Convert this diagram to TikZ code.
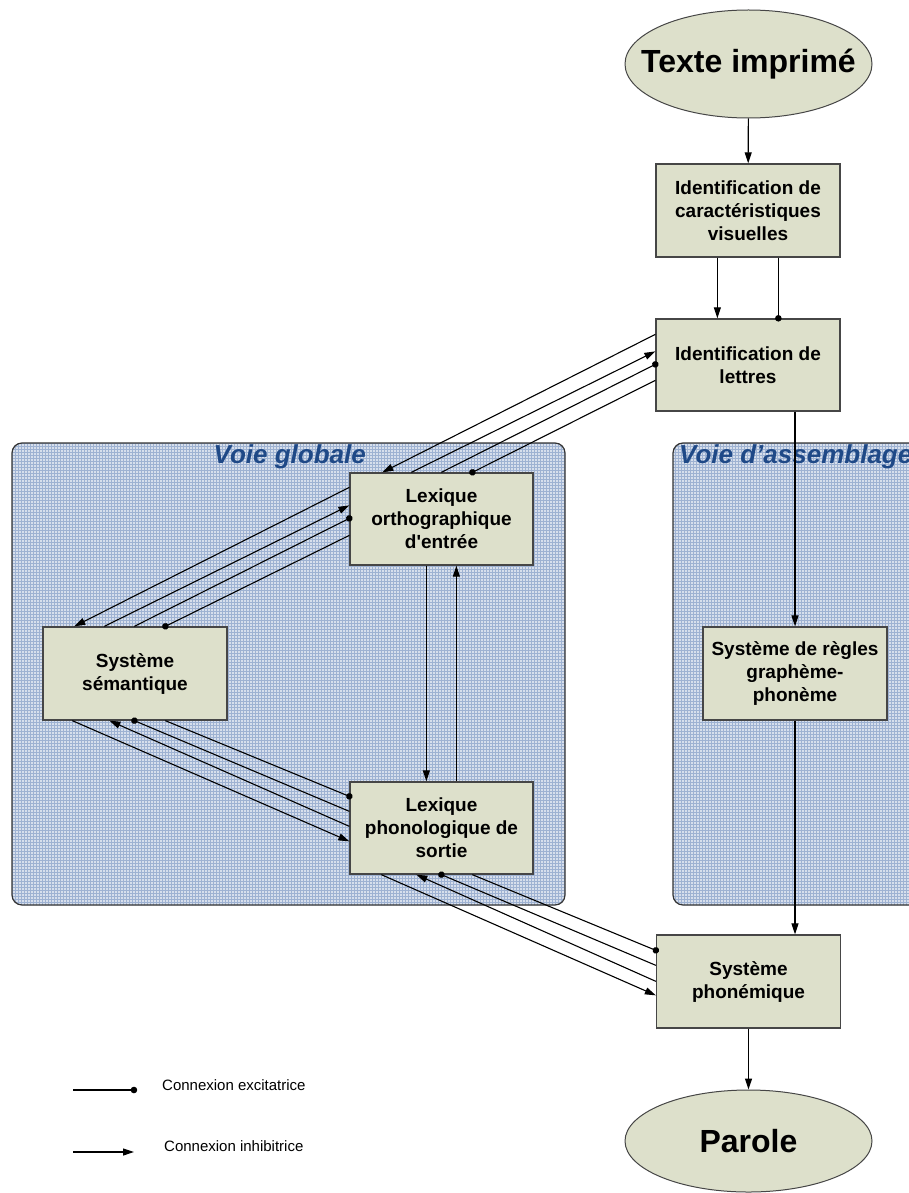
\documentclass[tikz,border=0pt]{standalone}
\usepackage{fontspec}
\setmainfont{Liberation Sans}
\newfontfamily\arialf{Liberation Sans}
\usetikzlibrary{arrows.meta,calc,shapes.geometric,patterns}
\definecolor{boxfill}{RGB}{221,224,203}
\definecolor{boxdraw}{RGB}{70,70,70}
\definecolor{panelfill}{RGB}{215,223,236}
\definecolor{panelgrid}{RGB}{158,178,210}
\definecolor{titleblue}{RGB}{31,73,135}
\tikzset{
  procbox/.style={draw=boxdraw, line width=1.3pt, fill=boxfill, minimum width=184pt, minimum height=93pt, align=center, inner sep=0pt,
    font=\arialf\fontsize{19}{23}\selectfont\bfseries},
  bigell/.style={ellipse, draw=boxdraw, line width=1pt, fill=boxfill, minimum width=247pt, inner sep=0pt,
    font=\arialf\fontsize{32}{36}\selectfont\bfseries},
  panel/.style={draw=black!80, line width=1.2pt, rounded corners=10pt},
  paneltitle/.style={font=\arialf\fontsize{26}{30}\selectfont\bfseries\itshape, text=titleblue, inner sep=0pt},
  conn/.style={line width=1.1pt, black},
  inh/.style={conn, -{Triangle[length=11pt,width=7pt]}},
  exc/.style={conn, -{Circle[length=6.5pt]}, shorten >=-3.2pt},
  legtext/.style={font=\arialf\fontsize{15}{18}\selectfont, anchor=west, inner sep=0pt}
}
\begin{document}
\begin{tikzpicture}[x=1pt,y=-1pt]
\useasboundingbox (0,0) rectangle (908,1193);
\fill[white] (0,0) rectangle (908,1193);
% panels
\fill[panelfill, rounded corners=10pt] (12,443) rectangle (565,905);
\fill[pattern=grid, pattern color=panelgrid, rounded corners=10pt] (12,443) rectangle (565,905);
\draw[panel] (12,443) rectangle (565,905);
\fill[panelfill, rounded corners=10pt] (673,443) rectangle (930,905);
\fill[pattern=grid, pattern color=panelgrid, rounded corners=10pt] (673,443) rectangle (930,905);
\draw[panel] (673,443) rectangle (930,905);
\node[paneltitle, anchor=east] (tglob) at (366,457) {Voie globale};
\node[paneltitle, anchor=west] (tass) at (679,457) {Voie d’assemblage};
% nodes
\node[bigell, minimum height=108pt] (tex) at (748.5,64) {\makebox[0pt]{Texte imprimé}};
\node[procbox] (vis) at (748,210.5) {Identification de\\caractéristiques\\visuelles};
\node[procbox, minimum height=92pt] (let) at (748,365) {Identification de\\lettres};
\node[procbox, minimum width=183pt, minimum height=92pt] (ortho) at (441.5,519) {Lexique\\orthographique\\d'entrée};
\node[procbox] (sem) at (135,673.5) {Système\\sémantique};
\node[procbox, minimum width=183pt, minimum height=92pt] (phon) at (441.5,828) {Lexique\\phonologique de\\sortie};
\node[procbox] (rules) at (795,673.5) {Système de règles\\graphème-\\phonème};
\node[procbox] (phm) at (748.5,981.5) {Système\\phonémique};
\node[bigell, minimum height=102pt] (par) at (748.5,1141) {\makebox[0pt]{Parole}};
% vertical connectors
\draw[inh] (tex) -- (vis);
\draw[inh] ($(vis.south west)+(62,0)$) -- ($(let.north west)+(62,0)$);
\draw[exc] ($(vis.south west)+(123,0)$) -- ($(let.north west)+(123,0)$);
\draw[inh] (let.south -| rules.north) -- (rules.north);
\draw[inh] (rules.south) -- (rules.south |- phm.north);
\draw[inh] (phm.south) -- (par.north);
\draw[inh] ($(ortho.south west)+(77,0)$) -- ($(phon.north west)+(77,0)$);
\draw[inh] ($(phon.north west)+(107,0)$) -- ($(ortho.south west)+(107,0)$);
% letters <-> ortho
\draw[inh] ($(let.north west)+(0,16)$) -- ($(ortho.north west)+(33,0)$);
\draw[inh] ($(ortho.north west)+(62,0)$) -- ($(let.north west)+(0,33)$);
\draw[exc] ($(ortho.north west)+(92,0)$) -- ($(let.north west)+(0,46)$);
\draw[exc] ($(let.north west)+(0,62)$) -- ($(ortho.north west)+(123,0)$);
% ortho <-> sem
\draw[inh] ($(ortho.north west)+(0,15)$) -- ($(sem.north west)+(32,0)$);
\draw[inh] ($(sem.north west)+(62,0)$) -- ($(ortho.north west)+(0,33)$);
\draw[exc] ($(sem.north west)+(92,0)$) -- ($(ortho.north west)+(0,46)$);
\draw[exc] ($(ortho.north west)+(0,63)$) -- ($(sem.north west)+(123,0)$);
% sem <-> phon
\draw[inh] ($(sem.south west)+(30,0)$) -- ($(phon.north west)+(0,60)$);
\draw[inh] ($(phon.north west)+(0,45)$) -- ($(sem.south west)+(67,0)$);
\draw[exc] ($(phon.north west)+(0,30)$) -- ($(sem.south west)+(92,0)$);
\draw[exc] ($(sem.south west)+(123,0)$) -- ($(phon.north west)+(0,15)$);
% phon <-> phonemique
\draw[inh] ($(phon.south west)+(32,0)$) -- ($(phm.north west)+(0,61)$);
\draw[inh] ($(phm.north west)+(0,47)$) -- ($(phon.south west)+(67,0)$);
\draw[exc] ($(phm.north west)+(0,31)$) -- ($(phon.south west)+(92,0)$);
\draw[exc] ($(phon.south west)+(123,0)$) -- ($(phm.north west)+(0,16)$);
% legend
\coordinate (l1a) at (73,1090);
\coordinate (l1b) at (134,1090);
\coordinate (l2a) at (73,1152);
\coordinate (l2b) at (134,1152);
\draw[exc] (l1a) -- (l1b);
\draw[inh] (l2a) -- (l2b);
\node[legtext] (lt1) at (162,1085) {Connexion excitatrice};
\node[legtext] (lt2) at (164,1146) {Connexion inhibitrice};
\end{tikzpicture}
\end{document}
